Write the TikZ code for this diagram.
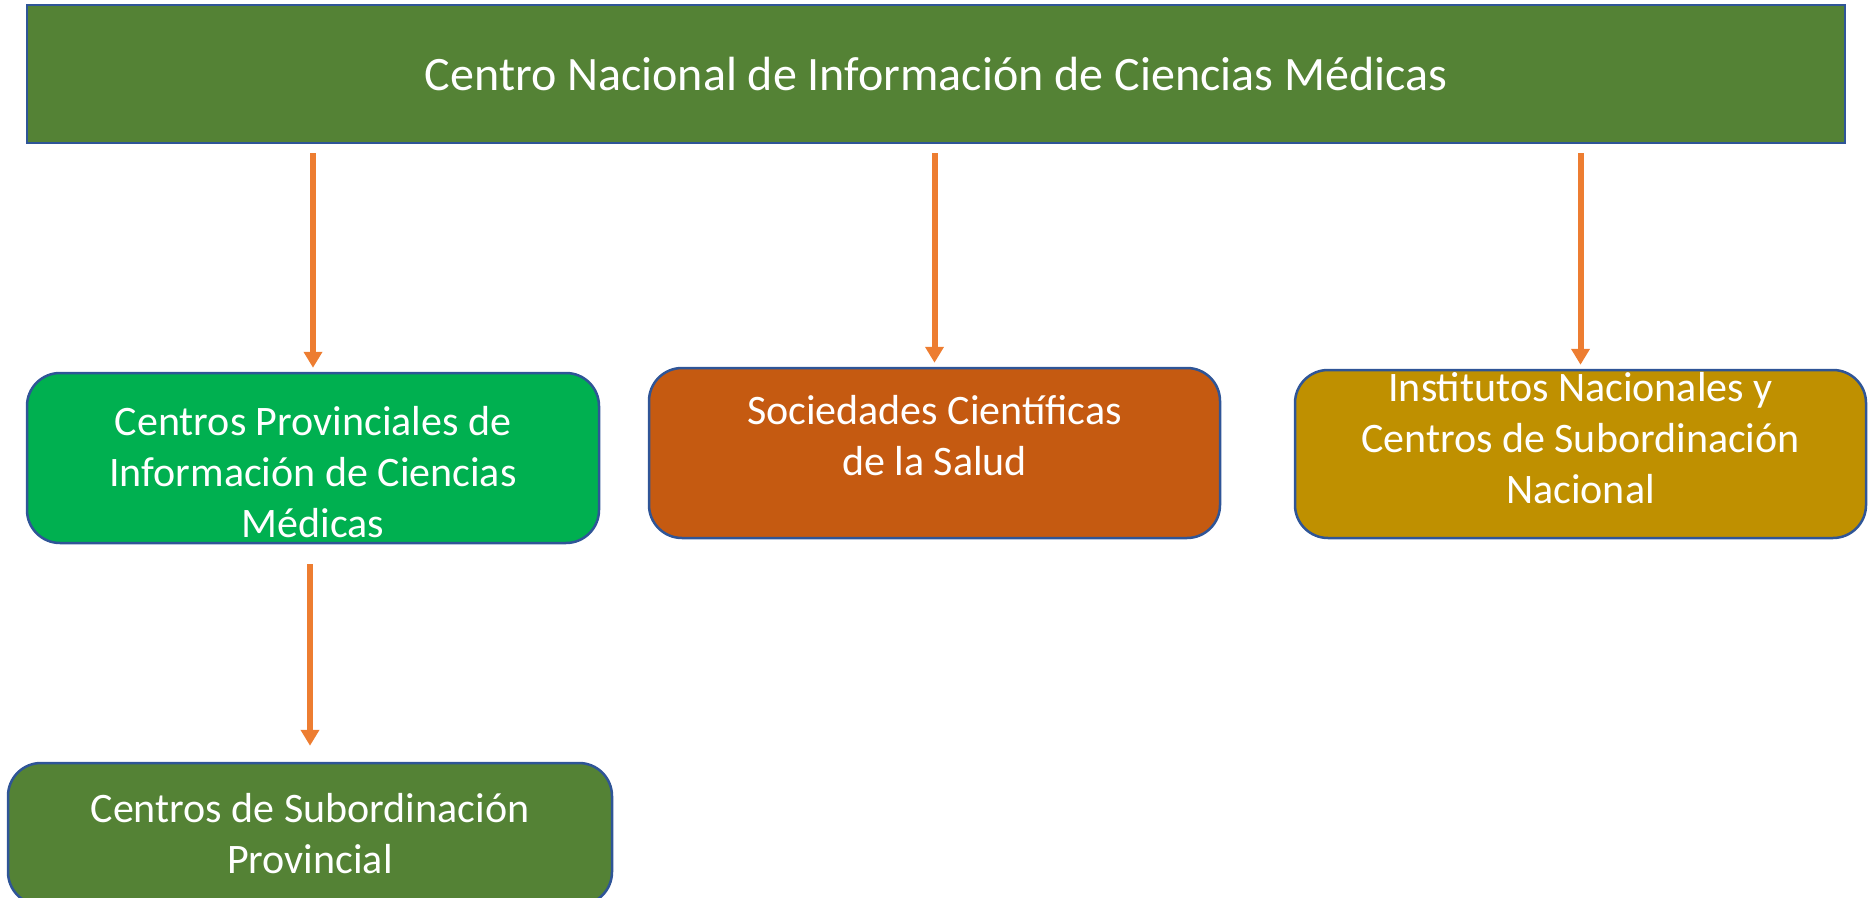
\documentclass[tikz,border=0pt]{standalone}
\usepackage{fontspec}
\setmainfont{Carlito}
\usetikzlibrary{positioning,arrows.meta}
\definecolor{cnicmgreen}{HTML}{548235}
\definecolor{provgreen}{HTML}{00B050}
\definecolor{socorange}{HTML}{C55A11}
\definecolor{instgold}{HTML}{BF9000}
\definecolor{edgeblue}{HTML}{2F5597}
\definecolor{linkorange}{HTML}{ED7D31}
\tikzset{
  unit/.style={draw=edgeblue, line width=2.5pt, rounded corners=33pt, inner sep=0pt},
  unittext/.style={text=white, align=center, inner sep=0pt, font=\fontsize{42}{51}\selectfont},
  link/.style={draw=linkorange, line width=6pt, -{Triangle[width=18pt,length=16pt]},
    shorten <=9pt, shorten >=4pt}
}

\begin{document}
\begin{tikzpicture}[x=1pt,y=-1pt]
\useasboundingbox (0,0) rectangle (1870,897);
% Centro nacional
\node[unit, sharp corners, fill=cnicmgreen, minimum width=1818pt, minimum height=138pt,
  text=white, font=\fontsize{48}{58}\selectfont] (cnicm) at (936,74)
  {Centro Nacional de Información de Ciencias Médicas};
% Segundo nivel
\node[unit, fill=provgreen, minimum width=572pt, minimum height=170pt] (cpicm) at (313,458) {};
\node[unittext, below=-52pt of cpicm.center] (cpicm-t)
  {Centros Provinciales de\\Información de Ciencias\\Médicas};
\node[unit, fill=socorange, minimum width=571pt, minimum height=170pt] (socied) at (934.5,453) {};
\node[unittext, above=-23pt of socied.center] (socied-t)
  {Sociedades Científicas\\de la Salud};
\node[unit, fill=instgold, minimum width=571pt, minimum height=168pt] (instit) at (1580.5,454) {};
\node[unittext, above=-50pt of instit.center] (instit-t)
  {Institutos Nacionales y\\Centros de Subordinación\\Nacional};
% Tercer nivel
\node[unit, fill=cnicmgreen, minimum width=604pt, minimum height=142pt] (csprov) at (310,834) {};
\node[unittext] (csprov-t) at (csprov.center) {Centros de Subordinación\\Provincial};

% Flechas
\draw[link] (cnicm.south -| cpicm.north) -- (cpicm.north);
\draw[link] (cnicm.south -| socied.north) -- (socied.north);
\draw[link] (cnicm.south -| instit.north) -- (instit.north);
\draw[link, shorten <=20pt, shorten >=16pt] (cpicm.south -| csprov.north) -- (csprov.north);
\end{tikzpicture}
\end{document}
